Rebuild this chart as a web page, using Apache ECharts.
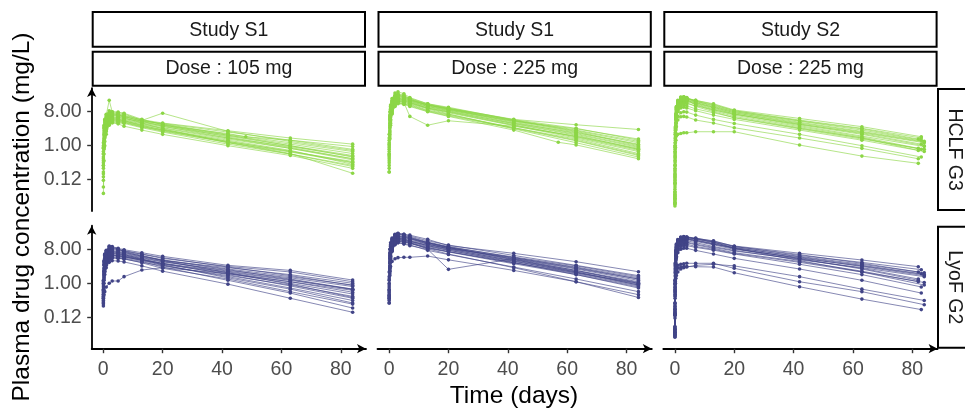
<!DOCTYPE html>
<html>
<head>
<meta charset="utf-8">
<script src="https://cdn.jsdelivr.net/npm/echarts@6/dist/echarts.min.js"></script>
<style>
  html, body { margin: 0; padding: 0; background: #ffffff; }
  #chart { width: 965px; height: 409px; }
</style>
</head>
<body>
<div id="chart"></div>
<script>
// ---- Sampling schedules (days after dose) ----
const timesS1 = [0.04, 0.25, 0.5, 1, 2, 3, 5, 7, 13, 20, 42, 63, 84];
const timesS2 = [0.02, 0.04, 0.08, 0.17, 0.33, 0.5, 1, 2, 3, 4, 7, 13, 20, 42, 63, 84];

// ---- Facet labels ----
const studyLabels = ['Study S1', 'Study S1', 'Study S2'];
const doseLabels = ['Dose : 105 mg', 'Dose : 225 mg', 'Dose : 225 mg'];
const formLabels = ['HCLF G3', 'LyoF G2'];

// ---- Axis ticks ----
const xTickValues = [0, 20, 40, 60, 80];
const yTickValues = [0.125, 1, 8];
const yTickLabels = ['0.12', '1.00', '8.00'];

// ---- Concentrations (mg/L), one row per subject ----
// Study S1, 105 mg, HCLF G3
const s1d105Hclf = [
  [0.3, 1.2, 2.0, 3.2, 4.5, 5.0, 4.8, 4.6, 3.6, 2.9, 1.5, 0.85, 0.45],
  [0.15, 0.9, 1.8, 2.8, 4.0, 4.6, 4.4, 4.2, 3.2, 2.6, 1.3, 0.7, 0.38],
  [0.6, 2.0, 3.1, 4.5, 6.0, 6.5, 6.2, 5.8, 4.6, 3.8, 2.0, 1.2, 0.7],
  [0.054, 0.4, 1.0, 2.0, 3.5, 4.2, 4.0, 3.9, 3.0, 2.3, 1.1, 0.6, 0.28],
  [0.9, 3.0, 4.5, 6.5, 16, 8.0, 7.5, 7.0, 4.7, 7.3, 2.4, 1.3, 0.75],
  [0.4, 1.5, 2.5, 3.8, 5.2, 5.5, 5.3, 5.0, 4.0, 3.2, 1.8, 1.0, 0.55],
  [0.2, 1.0, 1.9, 3.0, 4.2, 4.9, 4.7, 4.5, 3.4, 2.7, 1.4, 0.75, 0.32],
  [1.2, 3.5, 5.0, 6.8, 8.5, 8.0, 7.8, 7.3, 5.0, 3.6, 1.7, 0.9, 0.45],
  [0.5, 1.8, 2.9, 4.1, 5.5, 6.0, 5.7, 5.2, 4.4, 3.5, 2.1, 1.4, 0.95],
  [0.08, 0.6, 1.3, 2.4, 3.6, 4.0, 3.8, 3.3, 2.6, 2.0, 1.0, 0.55, 0.25],
  [0.35, 1.4, 2.2, 3.5, 5.0, 5.6, 5.6, 5.4, 4.2, 3.4, 1.9, 1.1, 0.62],
  [0.7, 2.5, 3.6, 5.2, 7.0, 7.5, 7.0, 6.5, 4.8, 3.7, 1.9, 1.0, 0.5],
  [0.25, 1.1, 1.9, 3.0, 4.6, 5.2, 5.0, 4.8, 3.8, 3.0, 1.6, 0.95, 0.52],
  [0.45, 1.6, 2.6, 3.9, 5.8, 6.4, 6.0, 5.6, 4.0, 2.8, 1.2, 0.6, 0.3],
  [0.12, 0.8, 1.6, 2.6, 3.9, 4.4, 4.2, 4.1, 3.1, 2.5, 1.2, 0.68, 0.35],
  [1.0, 3.2, 4.8, 6.0, 7.6, 7.2, 6.8, 6.2, 4.9, 4.0, 2.5, 1.6, 1.1],
  [0.3, 1.3, 2.3, 3.4, 4.8, 5.3, 5.1, 4.6, 3.5, 2.6, 1.3, 0.72, 0.36],
  [0.6, 2.2, 3.3, 4.7, 6.3, 6.8, 6.5, 6.0, 4.5, 3.9, 2.3, 1.4, 0.8],
  [0.18, 0.9, 1.7, 2.7, 4.1, 4.7, 4.5, 4.3, 3.3, 2.4, 1.25, 0.62, 0.185],
  [0.85, 2.8, 4.1, 5.6, 7.2, 7.0, 6.6, 6.0, 4.4, 3.3, 1.6, 0.85, 0.42]
];

// Study S1, 225 mg, HCLF G3
const s1d225Hclf = [
  [0.5, 3.0, 6.0, 10, 15, 17, 16, 14, 10, 8.0, 3.6, 1.7, 0.75],
  [0.2, 1.5, 3.5, 7.0, 12, 14, 13, 12, 8.5, 6.5, 3.0, 1.5, 0.62],
  [1.0, 5.0, 9.0, 14, 20, 22, 20, 17, 12, 9.5, 4.2, 2.1, 0.95],
  [0.35, 2.2, 4.8, 8.5, 13, 15, 14, 6.0, 3.5, 4.6, 3.3, 1.8, 0.85],
  [2.0, 8.0, 12, 18, 25, 27, 24, 19, 13, 10, 5.0, 3.6, 2.7],
  [0.6, 3.5, 7.0, 11, 16, 18, 17, 15, 11, 8.5, 3.8, 1.9, 0.8],
  [0.3, 2.0, 4.5, 8.0, 13, 15, 14, 13, 9.5, 7.0, 2.8, 1.2, 0.5],
  [1.4, 6.0, 10, 15, 21, 23, 21, 18, 13, 10.5, 4.8, 2.6, 1.3],
  [0.8, 4.0, 7.5, 12, 17, 19, 18, 16, 11.5, 9.0, 4.0, 2.2, 1.1],
  [0.25, 1.8, 4.0, 7.5, 11, 13, 12.5, 11, 8.0, 6.0, 2.6, 1.05, 0.45],
  [0.7, 3.8, 7.2, 11.5, 16.5, 18.5, 17, 15.5, 11, 8.8, 4.4, 2.3, 1.0],
  [1.6, 6.5, 11, 16, 22, 24, 22, 17.5, 12.5, 9.8, 4.6, 2.5, 1.2],
  [0.45, 2.6, 5.5, 9.5, 14, 16, 15, 13.5, 9.8, 7.5, 3.4, 1.6, 0.7],
  [0.9, 4.5, 8.0, 12.5, 18, 20, 18.5, 16, 12, 9.2, 4.5, 2.8, 1.5],
  [0.4, 2.4, 5.0, 9.0, 13.5, 15.5, 14.5, 12.5, 8.8, 6.8, 3.0, 1.4, 0.58],
  [1.2, 5.5, 9.5, 14.5, 20, 22, 20, 17, 12.2, 9.8, 4.9, 2.9, 1.4],
  [0.6, 3.2, 6.5, 10.5, 15.5, 17.5, 16.5, 14.5, 10.5, 8.2, 3.9, 2.0, 0.9],
  [0.2, 1.6, 3.8, 7.2, 11.5, 13.5, 13, 11.5, 8.2, 6.2, 2.9, 1.35, 0.55],
  [1.1, 5.2, 9.2, 13.5, 19, 21, 19.5, 16.5, 12, 9.5, 4.7, 2.4, 1.05],
  [0.55, 3.0, 6.2, 10, 14.5, 16.5, 15.5, 14, 10, 7.8, 3.5, 1.75, 0.8]
];

// Study S2, 225 mg, HCLF G3
const s2d225Hclf = [
  [0.03, 0.1, 0.4, 1.5, 4.0, 7.0, 12, 17, 18, 17.5, 15, 11, 8.0, 4.2, 2.4, 1.3],
  [0.05, 0.2, 0.8, 2.5, 6.0, 9.5, 14, 19, 19.5, 18, 16, 12.5, 8.5, 4.8, 2.9, 1.6],
  [0.025, 0.08, 0.3, 1.0, 2.8, 5.0, 9.0, 13, 15, 15, 12.5, 9.0, 6.5, 3.2, 1.7, 0.85],
  [0.04, 0.15, 0.6, 2.0, 5.0, 8.0, 12.5, 16, 17, 16, 13.5, 10, 7.0, 3.6, 2.0, 1.0],
  [0.06, 0.25, 1.0, 2.8, 6.5, 10, 15, 18.5, 19, 18, 14, 10.5, 7.5, 3.8, 2.1, 1.1],
  [0.03, 0.1, 0.35, 0.9, 1.4, 1.8, 2.0, 2.1, 2.2, 2.2, 2.35, 2.35, 2.35, 1.04, 0.53, 0.34],
  [0.035, 0.12, 0.5, 1.6, 3.5, 5.5, 8.0, 10, 10.5, 10, 8.5, 6.5, 5.0, 2.6, 1.4, 0.7],
  [0.05, 0.18, 0.7, 2.2, 5.5, 9.0, 13.5, 17.5, 18.5, 17.5, 16, 13, 8.9, 5.3, 3.2, 1.73],
  [0.04, 0.14, 0.55, 1.8, 4.2, 6.5, 10, 13.5, 14.5, 14, 11, 8.0, 5.5, 2.8, 1.5, 0.8],
  [0.028, 0.09, 0.3, 0.9, 2.0, 3.2, 4.8, 5.9, 6.0, 5.8, 4.8, 4.0, 3.0, 1.6, 0.85, 0.45],
  [0.07, 0.3, 1.2, 3.2, 7.0, 11, 16, 19.5, 20, 19, 15.5, 11.5, 8.0, 4.5, 2.6, 1.4],
  [0.045, 0.16, 0.65, 2.0, 4.8, 7.5, 11.5, 15, 16, 15.5, 13, 9.5, 7.0, 3.4, 1.8, 0.95],
  [0.032, 0.11, 0.45, 1.4, 3.2, 5.2, 8.5, 11, 12, 11.5, 9.5, 7.5, 5.6, 2.9, 1.6, 0.75],
  [0.055, 0.22, 0.9, 2.6, 6.0, 9.5, 14.5, 18, 18.5, 17, 12, 8.5, 6.0, 3.0, 1.6, 0.8],
  [0.038, 0.13, 0.5, 1.6, 3.8, 6.0, 9.5, 12.5, 13.5, 13, 11.5, 9.0, 6.8, 3.7, 2.2, 1.2],
  [0.06, 0.24, 1.0, 3.0, 6.8, 10.5, 15.5, 19, 19.5, 18.5, 15, 12, 8.5, 4.6, 2.8, 1.5],
  [0.03, 0.1, 0.4, 1.2, 2.6, 4.0, 6.0, 7.5, 8.0, 7.8, 6.5, 5.0, 3.9, 2.0, 1.0, 0.5],
  [0.045, 0.17, 0.7, 2.2, 5.2, 8.5, 13, 16.5, 17, 16.5, 14, 10.5, 7.5, 4.0, 2.3, 1.25]
];
const s2d225HclfLastDay = [84, 83, 82, 84, 83, 82, 84, 83, 84, 82, 83, 84, 82, 83, 84, 82, 83, 84];

// Study S1, 105 mg, LyoF G2
const s1d105Lyof = [
  [0.5, 2.0, 3.0, 4.0, 5.0, 5.5, 5.3, 5.0, 4.2, 3.4, 2.0, 1.2, 0.7],
  [0.3, 1.2, 2.0, 3.0, 4.2, 4.8, 4.6, 4.4, 3.6, 2.9, 1.6, 0.9, 0.45],
  [1.0, 3.5, 5.5, 7.0, 9.8, 9.5, 8.5, 7.8, 6.5, 5.2, 3.0, 2.2, 1.22],
  [0.25, 0.5, 0.6, 0.8, 1.0, 1.15, 1.15, 1.5, 2.25, 2.6, 1.8, 1.1, 0.65],
  [0.4, 1.6, 2.6, 3.6, 4.8, 5.6, 5.4, 5.2, 4.0, 3.0, 1.5, 0.75, 0.35],
  [0.7, 2.6, 4.0, 5.5, 7.0, 7.5, 7.0, 6.5, 5.3, 4.2, 2.4, 1.5, 0.9],
  [0.35, 1.4, 2.3, 3.3, 4.5, 5.0, 4.9, 4.7, 3.8, 2.7, 1.2, 0.55, 0.22],
  [1.2, 4.0, 6.0, 7.5, 9.5, 9.2, 8.2, 7.0, 5.5, 4.0, 1.9, 0.95, 0.42],
  [0.45, 1.8, 2.9, 4.0, 5.6, 6.2, 6.0, 5.7, 4.6, 3.7, 2.2, 1.4, 0.82],
  [0.28, 1.0, 1.7, 2.6, 3.6, 4.0, 3.9, 3.7, 2.9, 2.1, 0.95, 0.4, 0.17],
  [0.6, 2.2, 3.5, 4.8, 6.2, 6.8, 6.5, 6.0, 4.8, 3.8, 2.1, 1.25, 0.68],
  [0.8, 3.0, 4.6, 6.0, 7.8, 8.0, 7.5, 6.8, 5.2, 4.1, 2.3, 1.3, 0.7],
  [0.38, 1.5, 2.5, 3.5, 4.9, 5.4, 5.2, 5.0, 4.1, 3.2, 1.8, 1.0, 0.52],
  [0.55, 2.1, 3.3, 4.5, 6.0, 6.6, 6.3, 5.8, 4.4, 3.4, 1.7, 0.85, 0.4],
  [0.9, 3.2, 5.0, 6.5, 8.3, 8.5, 7.8, 7.2, 5.9, 4.6, 2.8, 2.0, 1.1],
  [0.32, 1.3, 2.1, 3.1, 4.3, 4.7, 4.6, 4.5, 3.5, 2.5, 1.3, 0.6, 0.28],
  [0.65, 2.4, 3.8, 5.1, 6.6, 7.1, 6.8, 6.3, 5.0, 4.0, 2.6, 1.7, 1.0],
  [0.42, 1.7, 2.7, 3.8, 5.2, 5.8, 5.6, 5.3, 4.3, 3.3, 1.9, 1.1, 0.58],
  [1.1, 3.8, 5.8, 7.2, 9.0, 8.8, 8.0, 7.4, 6.0, 4.8, 2.7, 1.6, 0.88],
  [0.5, 1.9, 3.1, 4.3, 5.8, 6.2, 6.0, 5.5, 4.3, 3.1, 1.4, 0.7, 0.3]
];

// Study S1, 225 mg, LyoF G2
const s1d225Lyof = [
  [0.6, 3.5, 6.5, 10, 14, 16, 15, 14, 11, 8.5, 4.2, 2.2, 1.1],
  [0.3, 1.8, 4.0, 7.0, 11, 13, 12.5, 11.5, 8.5, 6.8, 3.3, 1.7, 0.8],
  [1.2, 5.5, 9.5, 14, 19, 21, 20, 18, 13.5, 10.4, 5.5, 3.0, 1.6],
  [0.4, 2.2, 4.5, 7.5, 11, 12, 11, 10, 8.0, 2.35, 4.5, 2.4, 1.2],
  [2.0, 8.0, 12, 16, 20, 21.3, 20, 19, 14.7, 10, 6.25, 3.75, 2.03],
  [0.8, 4.2, 7.5, 11.5, 15.5, 17, 16, 15, 11.5, 8.8, 4.6, 2.5, 1.3],
  [0.35, 2.0, 4.2, 7.2, 10.5, 12, 11.5, 10.5, 7.5, 5.8, 2.7, 1.3, 0.6],
  [1.5, 6.5, 10.5, 15, 19.5, 20.5, 19, 17, 12.5, 9.5, 4.8, 2.6, 1.3],
  [0.5, 2.8, 5.5, 9.0, 13, 15, 14, 12.5, 9.5, 7.5, 3.8, 2.0, 0.95],
  [0.7, 3.8, 7.0, 10.8, 15, 17.5, 16.5, 15.5, 12, 9.2, 5.0, 2.9, 1.5],
  [0.3, 1.6, 2.8, 3.8, 4.5, 4.8, 4.9, 4.9, 5.3, 4.2, 2.2, 1.1, 0.5],
  [1.0, 5.0, 8.5, 12.5, 17, 18.5, 17.5, 16, 12, 9.0, 4.4, 2.2, 1.0],
  [0.45, 2.5, 5.0, 8.2, 12, 13.5, 13, 12, 9.0, 7.0, 3.5, 1.8, 0.85],
  [0.9, 4.6, 8.0, 12, 16.5, 18, 17, 15.5, 11, 8.2, 3.9, 1.9, 0.9],
  [0.55, 3.0, 6.0, 9.5, 13.5, 15.5, 14.5, 13, 10, 8.0, 4.0, 2.1, 1.05],
  [1.3, 6.0, 10, 14.5, 19, 20, 18.5, 16.5, 12, 9.0, 4.3, 2.0, 0.9],
  [0.38, 2.1, 4.4, 7.5, 11.5, 13, 12.5, 11.5, 8.8, 6.9, 3.5, 1.9, 1.0],
  [0.65, 3.4, 6.8, 10.5, 14.5, 16, 15, 13.5, 10, 7.6, 3.6, 1.7, 0.75],
  [0.48, 2.6, 5.2, 8.6, 12.5, 14.5, 14, 13, 10.5, 8.4, 4.8, 2.7, 1.4],
  [0.42, 2.4, 4.8, 8.0, 12, 14, 13.5, 12, 8.2, 6.0, 2.6, 1.1, 0.42]
];

// Study S2, 225 mg, LyoF G2
const s2d225Lyof = [
  [0.04, 0.15, 0.6, 2.0, 4.5, 7.0, 10.5, 13.5, 14.5, 14.5, 13, 10.5, 8.0, 4.8, 2.8, 1.6],
  [0.06, 0.25, 1.0, 3.0, 6.5, 9.5, 13, 16, 17, 17, 16, 13, 9.8, 6.3, 4.16, 2.76],
  [0.037, 0.12, 0.4, 1.1, 1.8, 2.2, 2.5, 2.7, 2.8, 2.8, 2.76, 2.7, 1.91, 0.81, 0.38, 0.2],
  [0.045, 0.15, 0.5, 1.3, 2.2, 2.7, 3.0, 3.2, 3.3, 3.4, 3.4, 3.4, 2.5, 1.1, 0.6, 0.27],
  [0.05, 0.2, 0.8, 2.4, 5.5, 8.5, 12, 15, 16, 15.5, 14, 11, 8.5, 4.5, 2.4, 1.2],
  [0.04, 0.14, 0.45, 1.0, 1.36, 1.6, 2.0, 2.4, 2.6, 2.7, 3.0, 3.2, 2.9, 1.5, 0.7, 0.35],
  [0.07, 0.3, 1.2, 3.5, 7.5, 11, 14.5, 17, 17.5, 17, 15, 12.5, 9.5, 5.5, 3.6, 2.3],
  [0.055, 0.2, 0.75, 2.2, 5.0, 7.5, 10, 12, 12.5, 12, 10.5, 8.5, 6.5, 3.8, 2.1, 1.1],
  [0.045, 0.16, 0.6, 1.8, 4.0, 6.0, 8.5, 10.5, 11, 11, 9.5, 8.0, 6.2, 3.6, 2.0, 1.05],
  [0.065, 0.28, 1.1, 3.2, 7.0, 10, 14, 16.5, 17, 16.5, 15, 12, 9.0, 5.0, 3.0, 1.8],
  [0.05, 0.18, 0.7, 2.0, 4.5, 6.8, 9.5, 12.5, 13.5, 13.5, 12, 9.5, 7.5, 4.2, 2.6, 1.5],
  [0.06, 0.22, 0.9, 2.6, 5.8, 8.8, 12.5, 15.5, 16.5, 16, 15.5, 13.5, 9.5, 5.8, 3.4, 2.0],
  [0.042, 0.14, 0.5, 1.5, 3.2, 4.8, 6.5, 8.0, 8.5, 8.5, 7.5, 6.0, 4.6, 2.4, 1.2, 0.55],
  [0.055, 0.2, 0.8, 2.4, 5.2, 8.0, 11.5, 14.5, 15.5, 15, 13.5, 11, 8.8, 5.2, 3.2, 1.9],
  [0.05, 0.17, 0.65, 1.9, 4.2, 6.4, 9.0, 11.5, 12.5, 12.5, 11, 9.0, 7.2, 4.4, 2.5, 1.3],
  [0.07, 0.3, 1.2, 3.4, 7.2, 10.5, 14, 16.5, 17, 16.5, 15.5, 12.5, 8.5, 4.0, 2.0, 0.9],
  [0.045, 0.15, 0.55, 1.6, 3.5, 5.2, 7.5, 9.5, 10, 10, 9.0, 7.6, 6.0, 3.2, 1.7, 0.8],
  [0.06, 0.24, 0.95, 2.8, 6.0, 9.0, 12.5, 15, 15.5, 15, 14, 11.5, 8.4, 4.6, 2.9, 1.7]
];
const s2d225LyofLastDay = [84, 82, 83, 84, 82, 84, 83, 82, 84, 83, 84, 82, 83, 84, 82, 84, 83, 84];

// Unscheduled samples: [panel, subject, day, concentration]
const unscheduled = [
  [0, 8, 48, 1.73],
  [1, 9, 57, 1.23]
];

// ---- Layout ----
const FONT = "'Liberation Sans', Arial, Helvetica, sans-serif";
const colLeft = [91.7, 377.5, 663.3];
const panelW = 274.3;
const rowTop = [88.1, 225.7];
const panelH = 123;
const xMin = -3.9, xMax = 88.5;
const yMin = 0.0183, yMax = 33.9;
const colors = ['#8CD646', '#414487'];

const panels = [
  { row: 0, col: 0, times: timesS1, subjects: s1d105Hclf },
  { row: 0, col: 1, times: timesS1, subjects: s1d225Hclf },
  { row: 0, col: 2, times: timesS2, subjects: s2d225Hclf, lastDay: s2d225HclfLastDay },
  { row: 1, col: 0, times: timesS1, subjects: s1d105Lyof },
  { row: 1, col: 1, times: timesS1, subjects: s1d225Lyof },
  { row: 1, col: 2, times: timesS2, subjects: s2d225Lyof, lastDay: s2d225LyofLastDay }
];

function yLabel(v) {
  for (let i = 0; i < yTickValues.length; i++) {
    if (Math.abs(Math.log(v) - Math.log(yTickValues[i])) < 1e-6) return yTickLabels[i];
  }
  return '';
}

const grids = [], xAxes = [], yAxes = [], series = [];
panels.forEach((p, gi) => {
  grids.push({ left: colLeft[p.col], top: rowTop[p.row], width: panelW, height: panelH, containLabel: false });
  const bottom = p.row === 1;
  const left = p.col === 0;
  xAxes.push({
    gridIndex: gi, type: 'value', min: xMin, max: xMax,
    axisLine: { show: bottom, onZero: false, symbol: ['none', 'arrow'], symbolSize: [7, 9],
      lineStyle: { color: '#000', width: 1.8 } },
    axisTick: { show: bottom, length: 4.5, customValues: xTickValues, lineStyle: { color: '#333', width: 1.4 } },
    axisLabel: { show: bottom, customValues: xTickValues, fontSize: 19.5, color: '#4D4D4D', fontFamily: FONT, margin: 11 },
    splitLine: { show: false }
  });
  yAxes.push({
    gridIndex: gi, type: 'log', logBase: 8, min: yMin, max: yMax,
    axisLine: { show: left, onZero: false, symbol: ['none', 'arrow'], symbolSize: [7, 9],
      lineStyle: { color: '#000', width: 1.8 } },
    axisTick: { show: left, length: 4.5, customValues: yTickValues, lineStyle: { color: '#333', width: 1.4 } },
    axisLabel: { show: left, customValues: yTickValues, formatter: yLabel, fontSize: 19.5, color: '#4D4D4D', fontFamily: FONT, margin: 10 },
    splitLine: { show: false }
  });
  const color = colors[p.row];
  p.subjects.forEach((conc, si) => {
    const pts = conc.map((c, k) => {
      const t = (p.lastDay && k === conc.length - 1) ? p.lastDay[si] : p.times[k];
      return [t, c];
    });
    unscheduled.filter(u => u[0] === gi && u[1] === si).forEach(u => pts.push([u[2], u[3]]));
    pts.sort((a, b) => a[0] - b[0]);
    series.push({
      type: 'line', xAxisIndex: gi, yAxisIndex: gi, data: pts,
      symbol: 'circle', symbolSize: 3.6, showSymbol: true, showAllSymbol: true,
      lineStyle: { color: color, width: 0.8, opacity: 0.8 },
      itemStyle: { color: color },
      silent: true, animation: false
    });
  });
});

// ---- Strip labels and axis titles ----
const graphics = [];
colLeft.forEach((x0, c) => {
  graphics.push({ type: 'rect', shape: { x: x0 + 1, y: 12, width: panelW - 2, height: 34.7 },
    style: { fill: '#fff', stroke: '#000', lineWidth: 2 } });
  graphics.push({ type: 'rect', shape: { x: x0 + 1, y: 51.7, width: panelW - 2, height: 34 },
    style: { fill: '#fff', stroke: '#000', lineWidth: 2 } });
  graphics.push({ type: 'text', x: x0 + panelW / 2, y: 30.5, style: { text: studyLabels[c], fontSize: 19.5,
    fontFamily: FONT, fill: '#1A1A1A', align: 'center', verticalAlign: 'middle' } });
  graphics.push({ type: 'text', x: x0 + panelW / 2, y: 69, style: { text: doseLabels[c], fontSize: 19.5,
    fontFamily: FONT, fill: '#1A1A1A', align: 'center', verticalAlign: 'middle' } });
});
rowTop.forEach((y0, r) => {
  graphics.push({ type: 'rect', shape: { x: 938, y: y0 + 1, width: 40, height: panelH - 2 },
    style: { fill: '#fff', stroke: '#000', lineWidth: 2 } });
  graphics.push({ type: 'text', x: 954, y: y0 + panelH / 2, rotation: -Math.PI / 2,
    style: { text: formLabels[r], fontSize: 19.5, fontFamily: FONT, fill: '#1A1A1A', align: 'center', verticalAlign: 'middle' } });
});
graphics.push({ type: 'text', x: 514, y: 396, style: { text: 'Time (days)', fontSize: 24.5, fontFamily: FONT,
  fill: '#000', align: 'center', verticalAlign: 'middle' } });
graphics.push({ type: 'text', x: 22, y: 217, rotation: Math.PI / 2, style: { text: 'Plasma drug concentration (mg/L)',
  fontSize: 24.5, fontFamily: FONT, fill: '#000', align: 'center', verticalAlign: 'middle' } });

const chart = echarts.init(document.getElementById('chart'), null, { renderer: 'canvas' });
chart.setOption({
  backgroundColor: '#ffffff',
  animation: false,
  grid: grids,
  xAxis: xAxes,
  yAxis: yAxes,
  series: series,
  graphic: graphics
});
</script>
</body>
</html>
